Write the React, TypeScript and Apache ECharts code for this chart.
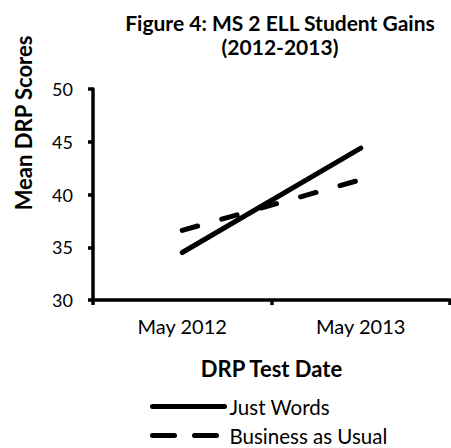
import React, { useEffect, useRef } from "react";
import * as echarts from "echarts";

const categories = ["May 2012", "May 2013"];
const justWords = [34.5, 44.4];
const businessAsUsual = [36.6, 41.4];
const yTicks = { min: 30, max: 50, interval: 5 };

const FONT = "Lato";

export default function App() {
  const ref = useRef<HTMLDivElement>(null);
  useEffect(() => {
    document.body.style.margin = "0";
    if (!ref.current) return;
    const chart = echarts.init(ref.current, null, { renderer: "svg" });
    const legendCommon = {
      orient: "vertical",
      left: 150,
      padding: 0,
      itemWidth: 72,
      itemHeight: 14,
      textStyle: { fontSize: 20.5, fontFamily: FONT, color: "#000", lineHeight: 18 },
      itemStyle: { color: "transparent", borderColor: "transparent", borderWidth: 0, opacity: 0 },
    };
    chart.setOption({
      animation: false,
      backgroundColor: "#ffffff",
      textStyle: { fontFamily: FONT },
      grid: { left: 93, right: 1, top: 89, bottom: 148, containLabel: false },
      graphic: [
        {
          type: "text",
          x: 280,
          y: 10,
          style: {
            text: "Figure 4: MS 2 ELL Student Gains\n(2012-2013)",
            align: "center",
            verticalAlign: "top",
            font: `bold 21px ${FONT}`,
            lineHeight: 24,
            fill: "#000",
          },
        },
        {
          type: "text",
          x: 23,
          y: 123,
          rotation: Math.PI / 2,
          style: {
            text: "Mean DRP Scores",
            align: "center",
            verticalAlign: "middle",
            font: `bold 22px ${FONT}`,
            fill: "#000",
          },
        },
      ],
      legend: [
        {
          ...legendCommon,
          top: 396,
          data: ["Just Words"],
          lineStyle: { width: 5, color: "#000", cap: "round", type: "solid" },
        },
        {
          ...legendCommon,
          top: 425,
          data: ["Business as Usual"],
          lineStyle: { width: 5, color: "#000", cap: "round", type: [22, 20] },
        },
      ],
      xAxis: {
        type: "category",
        data: categories,
        boundaryGap: true,
        name: "DRP Test Date",
        nameLocation: "middle",
        nameGap: 57,
        nameTextStyle: { fontWeight: "bold", fontSize: 22, color: "#000", fontFamily: FONT },
        axisLine: { lineStyle: { color: "#000", width: 3.5 } },
        axisTick: { show: true, length: 5, lineStyle: { color: "#000", width: 3.5 } },
        axisLabel: { color: "#000", fontSize: 20, margin: 16, fontFamily: FONT },
        splitLine: { show: false },
      },
      yAxis: {
        type: "value",
        min: yTicks.min,
        max: yTicks.max,
        interval: yTicks.interval,
        axisLine: { show: true, lineStyle: { color: "#000", width: 3.5 } },
        axisTick: { show: true, length: 5, lineStyle: { color: "#000", width: 3.5 } },
        axisLabel: { color: "#000", fontSize: 18, margin: 20, fontFamily: FONT },
        splitLine: { show: false },
      },
      series: [
        {
          name: "Just Words",
          type: "line",
          data: justWords,
          symbol: "none",
          lineStyle: { color: "#000", width: 5, cap: "round" },
          itemStyle: { color: "#000" },
        },
        {
          name: "Business as Usual",
          type: "line",
          data: businessAsUsual,
          symbol: "none",
          lineStyle: { color: "#000", width: 5, type: [16, 25], cap: "round" },
          itemStyle: { color: "#000" },
        },
      ],
    });
    return () => chart.dispose();
  }, []);
  return <div ref={ref} style={{ width: 451, height: 448 }} />;
}
